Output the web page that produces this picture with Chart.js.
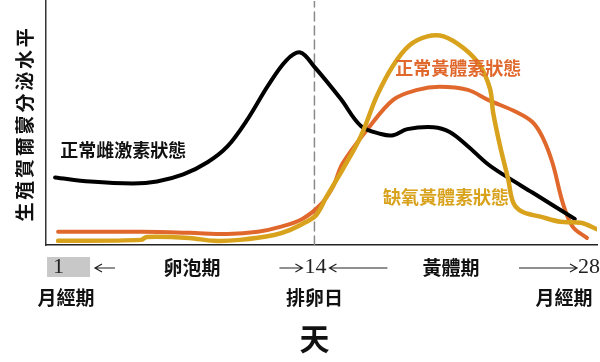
<!DOCTYPE html>
<html>
<head>
<meta charset="utf-8">
<script src="https://cdn.jsdelivr.net/npm/chart.js@4.4.0/dist/chart.umd.min.js"></script>
<style>
html, body { margin: 0; padding: 0; background: #fff; }
</style>
</head>
<body>
<canvas id="cycle-chart" width="600" height="362"></canvas>
<script>
// cycle day / hormone level (0-100)
var estrogenDays = [1.15, 2.9, 5.0, 6.2, 7.5, 8.7, 9.7, 10.7, 11.7, 12.6, 13.3, 14.0, 15.3, 16.3, 17.3, 17.9, 18.6, 19.9, 20.7, 21.6, 22.6, 23.5, 24.8, 26.9];
var estrogenLevels = [27.7, 26.0, 25.2, 26.0, 28.9, 33.9, 40.5, 51.7, 65.3, 75.6, 78.9, 73.0, 59.9, 48.8, 45.5, 45.0, 47.5, 48.3, 46.3, 40.5, 33.1, 28.1, 21.5, 10.7];

var progesteroneDays = [1.3, 5.4, 7.8, 9.7, 11.2, 12.3, 13.4, 14.3, 14.9, 15.4, 16.6, 17.9, 19.1, 20.2, 21.6, 22.6, 24.0, 24.8, 25.3, 25.8, 26.3, 26.8, 27.5];
var progesteroneLevels = [5.4, 5.4, 5.0, 4.5, 5.4, 7.4, 10.7, 16.5, 23.6, 33.5, 47.1, 59.5, 63.6, 64.9, 63.6, 59.5, 54.5, 50.4, 44.2, 33.5, 17.4, 7.4, 2.9];

var hypoxiaDays = [1.3, 5.4, 5.7, 7.8, 9.0, 10.3, 12.0, 12.8, 13.6, 14.1, 14.6, 15.4, 16.3, 17.1, 17.9, 18.7, 19.6, 20.4, 21.4, 22.2, 22.7, 22.85, 23.2, 23.6, 23.85, 24.3, 25.2, 26.2, 27.2, 28.0];
var hypoxiaLevels = [1.7, 2.1, 3.3, 2.9, 1.7, 2.1, 4.1, 6.2, 9.5, 12.4, 19.8, 31.0, 44.6, 61.2, 73.6, 81.8, 85.5, 85.5, 80.6, 73.6, 64.0, 54.5, 40.5, 26.9, 17.4, 13.6, 11.6, 9.5, 9.1, 6.5];

var ovulationDay = 14;
var dayTicks = ['1', '14', '28'];
var phaseNames = ['卵泡期', '黃體期'];
var eventNames = ['月經期', '排卵日', '月經期'];
var seriesNames = ['正常雌激素狀態', '正常黃體素狀態', '缺氧黃體素狀態'];
var yTitle = '生殖賀爾蒙分泌水平';
var xTitle = '天';

function toPoints(days, levels) {
  return days.map(function (d, i) { return { x: d, y: levels[i] }; });
}

var cjk = '"Noto Sans CJK TC", "Noto Sans CJK SC", sans-serif';
var serif = '"Liberation Serif", "DejaVu Serif", serif';
var orange = '#e0682c';
var gold = '#d8a21c';

function arrow(ctx, x1, x2, y, pointLeft) {
  var tip = pointLeft ? x1 : x2;
  var d = pointLeft ? 1 : -1;
  ctx.beginPath();
  ctx.moveTo(x1, y);
  ctx.lineTo(x2, y);
  ctx.moveTo(tip + d * 7, y - 4);
  ctx.lineTo(tip, y);
  ctx.lineTo(tip + d * 7, y + 4);
  ctx.stroke();
}

var annotate = {
  id: 'annotate',
  afterDraw: function (chart) {
    var ctx = chart.ctx;
    var xs = chart.scales.x;
    var ys = chart.scales.y;
    var px = function (d) { return xs.getPixelForValue(d); };
    ctx.save();
    ctx.textBaseline = 'middle';

    // y title, one glyph at a time for the wide spacing
    ctx.save();
    ctx.translate(25, 125);
    ctx.rotate(-Math.PI / 2);
    ctx.fillStyle = '#111';
    ctx.font = 'bold 19px ' + cjk;
    ctx.textAlign = 'center';
    for (var i = 0; i < yTitle.length; i++) {
      ctx.fillText(yTitle[i], -98 + 21.8 * i + 10.9, 0);
    }
    ctx.restore();

    // series names inside the plot
    ctx.font = 'bold 18px ' + cjk;
    ctx.textAlign = 'left';
    ctx.fillStyle = '#111';
    ctx.fillText(seriesNames[0], px(1.4), ys.getPixelForValue(39));
    ctx.fillStyle = orange;
    ctx.fillText(seriesNames[1], px(18.0), ys.getPixelForValue(72.5));
    ctx.fillStyle = gold;
    ctx.fillText(seriesNames[2], px(17.4), ys.getPixelForValue(19.5));

    // first row under the axis
    var row1 = 267;
    ctx.fillStyle = '#c8c8c8';
    ctx.fillRect(px(1) - 5, 257, 43, 20);
    ctx.fillStyle = '#222';
    ctx.font = '22px ' + serif;
    ctx.textAlign = 'left';
    ctx.fillText(dayTicks[0], px(1) + 1, row1);
    ctx.fillText(dayTicks[1], px(14) - 10, row1);
    ctx.fillText(dayTicks[2], px(28) - 19, row1);

    ctx.strokeStyle = '#222';
    ctx.lineWidth = 1.2;
    arrow(ctx, 95, 115, row1 + 1, true);
    arrow(ctx, px(14) - 35, px(14) - 12, row1 + 1, false);
    arrow(ctx, px(14) + 15, px(14) + 73, row1 + 1, true);
    arrow(ctx, px(28) - 78, px(28) - 20, row1 + 1, false);

    ctx.font = 'bold 19px ' + cjk;
    ctx.textAlign = 'center';
    ctx.fillStyle = '#111';
    ctx.fillText(phaseNames[0], 192, row1 + 1);
    ctx.fillText(phaseNames[1], 451, row1 + 1);

    // second row
    var row2 = 298;
    ctx.fillText(eventNames[0], 66, row2);
    ctx.fillText(eventNames[1], px(14), row2);
    ctx.fillText(eventNames[2], 564, row2);

    ctx.font = 'bold 30px ' + cjk;
    ctx.fillText(xTitle, px(14), 339);
    ctx.restore();
  }
};

var canvas = document.getElementById('cycle-chart');
new Chart(canvas, {
  type: 'scatter',
  data: {
    datasets: [{
      label: seriesNames[2],
      data: toPoints(hypoxiaDays, hypoxiaLevels),
      borderColor: gold,
      borderWidth: 4.5,
      order: 0
    }, {
      label: seriesNames[0],
      data: toPoints(estrogenDays, estrogenLevels),
      borderColor: '#000',
      borderWidth: 4,
      order: 1
    }, {
      label: seriesNames[1],
      data: toPoints(progesteroneDays, progesteroneLevels),
      borderColor: orange,
      borderWidth: 4,
      order: 2
    }, {
      label: 'ovulation',
      data: [{ x: ovulationDay, y: 0 }, { x: ovulationDay, y: 100 }],
      borderColor: '#8a8a8a',
      borderWidth: 1.5,
      borderDash: [9, 5],
      tension: 0,
      order: 3
    }]
  },
  options: {
    responsive: false,
    animation: false,
    devicePixelRatio: 1,
    layout: { padding: { left: 46, right: 3, top: 1, bottom: 117 } },
    elements: {
      point: { radius: 0, hoverRadius: 0 },
      line: { tension: 0.35, fill: false, borderCapStyle: 'round', borderJoinStyle: 'round' }
    },
    datasets: { scatter: { showLine: true } },
    plugins: { legend: { display: false }, tooltip: { enabled: false } },
    scales: {
      x: {
        type: 'linear', min: 0.7, max: 28,
        ticks: { display: false },
        grid: { display: false, drawTicks: false },
        border: { display: true, color: '#222', width: 1.5 }
      },
      y: {
        min: 0, max: 100,
        ticks: { display: false },
        grid: { display: false, drawTicks: false },
        border: { display: true, color: '#333', width: 1.5 }
      }
    }
  },
  plugins: [annotate]
});
</script>
</body>
</html>
